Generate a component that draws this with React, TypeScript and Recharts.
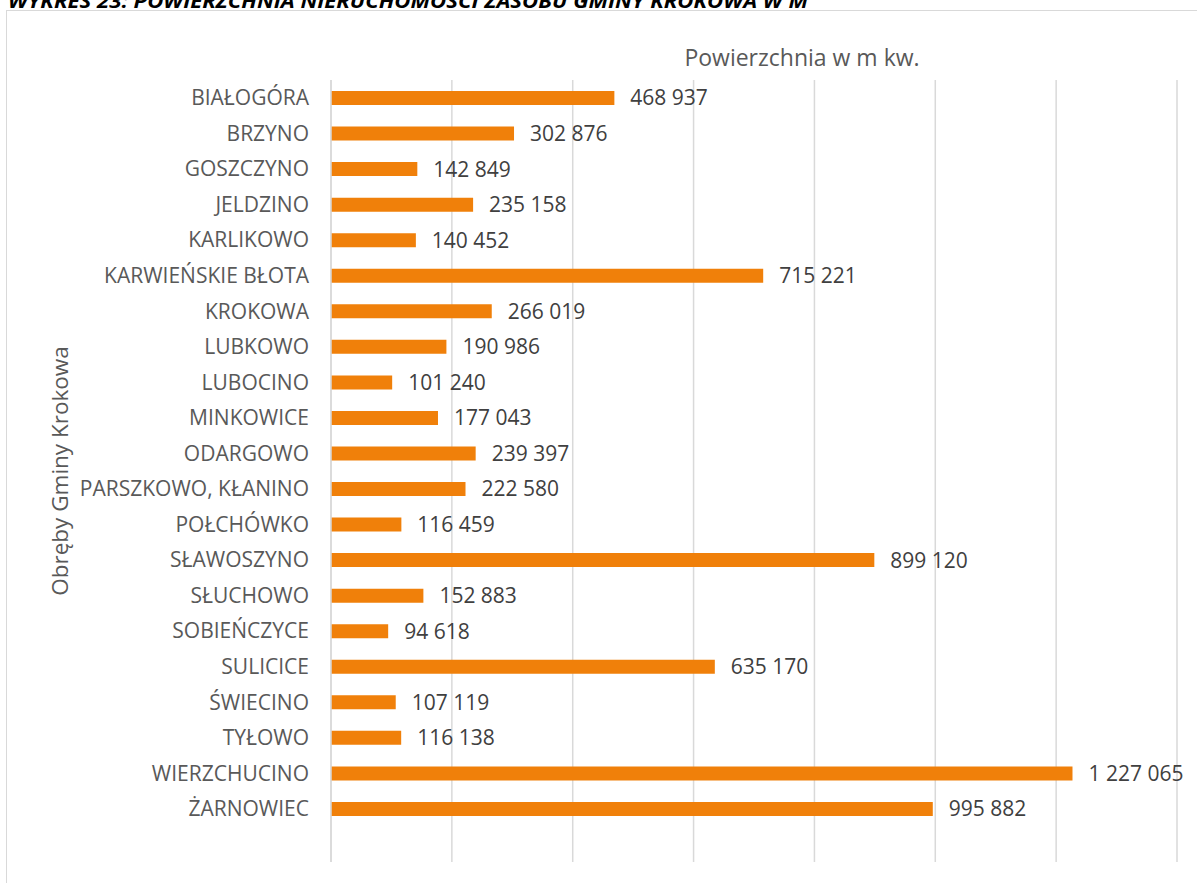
import React from 'react';
import { BarChart, Bar, XAxis, YAxis, CartesianGrid, LabelList, Label } from 'recharts';

const categories = [
  'BIAŁOGÓRA', 'BRZYNO', 'GOSZCZYNO', 'JELDZINO', 'KARLIKOWO', 'KARWIEŃSKIE BŁOTA',
  'KROKOWA', 'LUBKOWO', 'LUBOCINO', 'MINKOWICE', 'ODARGOWO', 'PARSZKOWO, KŁANINO',
  'POŁCHÓWKO', 'SŁAWOSZYNO', 'SŁUCHOWO', 'SOBIEŃCZYCE', 'SULICICE', 'ŚWIECINO',
  'TYŁOWO', 'WIERZCHUCINO', 'ŻARNOWIEC',
];
const areaValues = [
  468937, 302876, 142849, 235158, 140452, 715221,
  266019, 190986, 101240, 177043, 239397, 222580,
  116459, 899120, 152883, 94618, 635170, 107119,
  116138, 1227065, 995882,
];
const xTicks = [0, 200000, 400000, 600000, 800000, 1000000, 1200000, 1400000];
const heading = 'WYKRES 23: POWIERZCHNIA NIERUCHOMOŚCI ZASOBU GMINY KROKOWA W M';
const chartTitle = 'Powierzchnia w m kw.';
const yAxisTitle = 'Obręby Gminy Krokowa';

const data = categories.map((name, i) => ({ name, value: areaValues[i] }));

const fmt = (v: any) => String(v).replace(/\B(?=(\d{3})+(?!\d))/g, ' ');

const FONT = '"Open Sans", sans-serif';

export default function App() {
  return (
    <div style={{ position: 'absolute', left: 0, top: 0, width: 1197, height: 883, overflow: 'hidden', background: '#fff', fontFamily: FONT }}>
      <div style={{ position: 'absolute', left: 6, top: 10, width: 1400, height: 1000, border: '1.5px solid #d9d9d9', boxSizing: 'border-box' }} />
      <div style={{ position: 'absolute', left: 0, top: 0 }}>
        <BarChart
          width={1197}
          height={883}
          data={data}
          layout="vertical"
          margin={{ top: 80, right: 20, bottom: 21, left: 0 }}
          barSize={14}
        >
          <CartesianGrid horizontal={false} stroke="#d9d9d9" strokeWidth={1.5} />
          <XAxis type="number" domain={[0, 1400000]} ticks={xTicks} hide />
          <YAxis
            type="category"
            dataKey="name"
            width={331}
            tickLine={false}
            tickSize={0}
            tickMargin={22}
            axisLine={{ stroke: '#d9d9d9', strokeWidth: 1.5 }}
            tick={{ fill: '#595959', fontSize: 21, fontFamily: FONT }}
            padding={{ top: 0, bottom: 35.5 }}
            interval={0}
          >
            <Label
              value={yAxisTitle}
              angle={-90}
              position="insideLeft"
              offset={60}
              textAnchor="middle"
              style={{ fill: '#595959', fontSize: 22.5, fontFamily: FONT }}
            />
          </YAxis>
          <Bar dataKey="value" fill="#F0800A" isAnimationActive={false}>
            <LabelList
              dataKey="value"
              position="right"
              offset={16}
              formatter={fmt}
              style={{ fill: '#404040', fontSize: 21, fontFamily: FONT }}
            />
          </Bar>
        </BarChart>
      </div>
      <svg style={{ position: 'absolute', left: 0, top: 0, pointerEvents: 'none' }} width={1197} height={883}>
        <text x={8} y={8} fontFamily={FONT} fontWeight="bold" fontStyle="italic" fontSize={19} fill="#000" textLength={800} lengthAdjust="spacingAndGlyphs">{heading}</text>
        <text x={802} y={66} fontFamily={FONT} fontSize={23} fill="#595959" textAnchor="middle">{chartTitle}</text>
      </svg>
    </div>
  );
}
